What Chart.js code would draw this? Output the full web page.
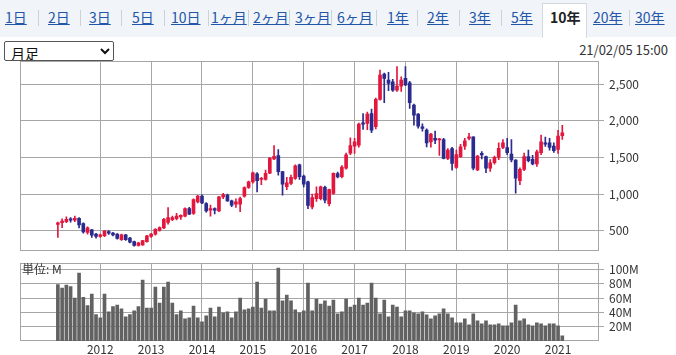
<!DOCTYPE html>
<html><head><meta charset="utf-8">
<script src="https://cdn.jsdelivr.net/npm/chart.js@4"></script>
<style>
body{margin:0;width:676px;height:355px;background:#fff;overflow:hidden;font-family:"Noto Sans CJK JP","Noto Sans",sans-serif;position:relative}
#tabs{position:absolute;left:0;top:0;width:676px;height:37px;background:#f1f4f8}
.tab{position:absolute;top:8px;font-size:14px;color:#2256a8;text-decoration:underline;line-height:18px;white-space:nowrap}
.sep{position:absolute;top:10px;width:1px;height:16px;background:#cdd2d9}
.sel{position:absolute;left:542px;top:3px;width:43px;height:34px;background:#fff;border:1px solid #d3d8df;border-bottom:none}
.selt{position:absolute;left:550px;top:8px;font-size:14px;font-weight:bold;color:#222;line-height:18px}
select{position:absolute;left:4px;top:41px;width:110px;height:20px;font-size:14px;font-family:"Noto Sans CJK JP",sans-serif;padding:0 2px;border:1px solid #555;border-radius:2px;background:#fff;color:#111}
#ts{position:absolute;right:8px;top:40px;font-size:13px;color:#333}
#unit{position:absolute;left:22px;top:262px;font-size:12px;color:#333;line-height:13px}
.cv{position:absolute;left:0}
</style></head><body>
<div id="tabs"></div>
<select><option>月足</option></select>
<div id="ts">21/02/05 15:00</div>
<canvas id="price" class="cv" width="676" height="214" style="top:49px"></canvas>
<canvas id="vol" class="cv" width="676" height="104" style="top:251px"></canvas>
<div id="unit">単位: M</div>
<script>
// ---- data ----
const tabLabels = ['1日','2日','3日','5日','10日','1ヶ月','2ヶ月','3ヶ月','6ヶ月','1年','2年','3年','5年','10年','20年','30年'];
const selectedTab = '10年';
const firstMonth = '2011/03';
const yearTicks = [2012,2013,2014,2015,2016,2017,2018,2019,2020,2021];
const priceTicks = [500,1000,1500,2000,2500];
const volumeTicks = [20,40,60,80,100];

const opens = [589,611,625,665,647,670,598,478,513,455,424,433,491,469,455,380,446,402,353,300,
308,353,424,455,505,540,615,654,665,690,700,804,736,895,973,873,782,804,773,964,
986,909,864,864,973,1091,1168,1278,1200,1202,1285,1479,1525,1308,1101,1147,1216,1400,1248,1170,
825,940,940,1092,871,1009,1280,1239,1354,1560,1655,1668,1973,1964,2100,1919,2292,2637,2556,2533,
2419,2474,2578,2519,2214,2092,1919,1873,1714,1760,1740,1746,1486,1623,1364,1511,1655,1759,1782,1330,
1556,1511,1353,1429,1502,1637,1637,1547,1466,1185,1339,1511,1475,1411,1565,1700,1700,1655,1610,1796];
const highs = [620,665,690,680,700,680,610,555,520,465,455,505,505,480,462,455,452,410,360,345,
372,440,465,530,555,670,818,700,740,720,815,820,935,985,990,885,850,815,970,1010,
1000,920,935,960,1100,1180,1300,1295,1230,1330,1500,1663,1607,1310,1230,1260,1400,1410,1260,1180,
1000,1101,1110,1110,1070,1290,1300,1390,1560,1767,1760,1970,2100,2120,2160,2310,2692,2650,2660,2565,
2738,2600,2738,2540,2230,2100,1960,1890,1830,1860,1760,1760,1620,1640,1600,1680,1760,1830,1782,1530,
1580,1520,1470,1520,1700,1745,1760,1746,1470,1360,1560,1600,1530,1600,1805,1780,1760,1700,1872,1940];
const lows = [411,545,611,620,625,540,470,455,411,400,410,420,450,430,385,370,370,335,290,290,
300,345,410,440,495,530,590,640,650,655,690,720,725,880,870,755,700,730,760,940,
900,830,820,760,960,1080,1150,1032,1130,1190,1280,1470,1260,986,1060,1130,1200,1200,1100,802,
800,900,920,880,840,1000,1220,1220,1340,1540,1555,1640,1882,1880,1837,1890,2280,2246,2410,2400,
2400,2400,2480,2170,1941,1900,1860,1646,1640,1690,1530,1480,1470,1327,1350,1500,1610,1740,1330,1320,
1480,1294,1310,1410,1470,1620,1540,1440,1014,1130,1320,1440,1400,1380,1540,1650,1600,1570,1556,1746];
const closes = [611,634,656,647,670,580,487,540,442,424,446,500,469,446,397,446,380,344,300,335,
366,433,455,522,545,658,681,681,700,710,804,727,927,973,882,773,804,782,964,995,
909,850,895,941,1091,1168,1291,1184,1216,1285,1493,1516,1308,1138,1156,1230,1386,1239,1138,848,
954,1009,1101,917,1064,1285,1234,1368,1538,1663,1714,1955,1955,2092,1873,2292,2624,2578,2510,2419,
2474,2556,2488,2246,2078,1928,1896,1700,1818,1737,1750,1486,1600,1418,1541,1646,1728,1782,1353,1520,
1534,1353,1429,1502,1624,1700,1565,1466,1217,1339,1511,1457,1411,1579,1714,1683,1637,1592,1791,1836];
const volumes = [79,74,78,76,60,95,61,49.5,65.7,37,32.4,65.7,40.7,48,50.3,44.8,33.8,37,42,48,
85,46,46,75.4,53,75.4,82.4,53,37,42,30.9,32.4,48.8,32.4,26.8,35,46,33.8,47.5,39.2,
40.7,32.4,40.7,60,43.5,44.8,47.5,82.4,46,58.6,42,42,101.8,56,64.3,56,43.5,39.2,42,81,
42,58.6,51.7,56,48.8,57.3,38,40.7,58.6,47.5,50.3,60,50.3,53,81,60,38,57.3,33.8,50.3,
47.5,33.8,42,42,39.2,38,40.7,36.5,30.9,35,38,44.8,38,32.4,25.4,25.4,30.9,22.6,38,28.2,
24,28.2,22.6,22.6,24,21.2,21.2,25.4,50.3,28.2,30.9,22.6,21.2,25.4,24,21.2,24,24,21.2,7.3];

// ---- header ----
const tabPos = [5,48,89,132,171,211,253,295,337,387,427,469,511,550,593,635];
const sepPos = [38,80,121,164,208,248,289,331,376,417,459,501,629];
const tabs = document.getElementById('tabs');
sepPos.forEach(x=>{const d=document.createElement('div');d.className='sep';d.style.left=x+'px';tabs.appendChild(d);});
tabLabels.forEach((t,i)=>{
  if(t===selectedTab){
    const b=document.createElement('div');b.className='sel';tabs.appendChild(b);
    const s=document.createElement('div');s.className='selt';s.textContent=t;s.style.left=tabPos[i]+'px';tabs.appendChild(s);
  } else {
    const d=document.createElement('div');d.className='tab';d.textContent=t;d.style.left=tabPos[i]+'px';tabs.appendChild(d);
  }
});

// ---- x positions (fractional years) ----
const [fy, fm] = firstMonth.split('/').map(Number);
const xs = opens.map((_, i) => fy + (fm - 1 + i) / 12);
const X_MIN = 2010.422, X_MAX = 2021.805;

const RED = '#e3173e', BLUE = '#2b2a8f', GRID = '#a6a6a6', TXT = '#333';
const FONT = {family: '"Noto Sans CJK JP","Noto Sans",sans-serif', size: 12};

const frame = {id:'frame', beforeDatasetsDraw(c){const a=c.chartArea,ctx=c.ctx;ctx.save();ctx.strokeStyle=GRID;ctx.lineWidth=1;ctx.strokeRect(Math.round(a.left)+0.5,Math.round(a.top)+0.5,Math.round(a.right-a.left)-1,Math.round(a.bottom-a.top)-1);ctx.restore();}};

function xScale(showLabels){
  return {type:'linear', min:X_MIN, max:X_MAX, offset:false,
    afterBuildTicks: s => { s.ticks = yearTicks.map(v=>({value:v})); },
    afterFit: s => { s.height = showLabels ? 14 : 0; },
    grid:{color:GRID, drawTicks:false, offset:false}, border:{display:false},
    ticks:{display:showLabels, padding:1, color:TXT, font:FONT, maxRotation:0, autoSkip:false, callback:v=>String(v)}};
}
const col = i => closes[i] >= opens[i] ? RED : BLUE;

new Chart(document.getElementById('price'), {
  type:'bar',
  data:{datasets:[
    {data: xs.map((x,i)=>({x, y:[opens[i], closes[i]]})), backgroundColor: c=>col(c.dataIndex), barThickness:3, minBarLength:1, grouped:false},
    {data: xs.map((x,i)=>({x, y:[lows[i], highs[i]]})), backgroundColor: c=>col(c.dataIndex), barThickness:1, grouped:false}
  ]},
  options:{responsive:false, animation:false, devicePixelRatio:1,
    layout:{padding:{left:20, top:5.8, right:0, bottom:4}},
    plugins:{legend:{display:false}, tooltip:{enabled:false}},
    scales:{
      x: xScale(false),
      y:{position:'right', min:228, max:2813,
        afterBuildTicks: s => { s.ticks = priceTicks.map(v=>({value:v})); },
        afterFit: s => { s.width = 77; },
        grid:{color:GRID, tickLength:5}, border:{display:false},
        ticks:{color:TXT, font:FONT, padding:5, callback:v=>v.toLocaleString('en-US')}}
    }},
  plugins:[frame]
});

new Chart(document.getElementById('vol'), {
  type:'bar',
  data:{datasets:[
    {data: xs.map((x,i)=>({x, y:volumes[i]})), backgroundColor:'#626262', barThickness:3, grouped:false}
  ]},
  options:{responsive:false, animation:false, devicePixelRatio:1,
    layout:{padding:{left:20, top:5.8, right:0, bottom:0}},
    plugins:{legend:{display:false}, tooltip:{enabled:false}},
    scales:{
      x: xScale(true),
      y:{position:'right', min:0, max:108.7,
        afterBuildTicks: s => { s.ticks = volumeTicks.map(v=>({value:v})); },
        afterFit: s => { s.width = 77; },
        grid:{color:GRID, tickLength:5}, border:{display:false},
        ticks:{color:TXT, font:FONT, padding:5, callback:v=>v+'M'}}
    }},
  plugins:[frame]
});
</script>
</body></html>
